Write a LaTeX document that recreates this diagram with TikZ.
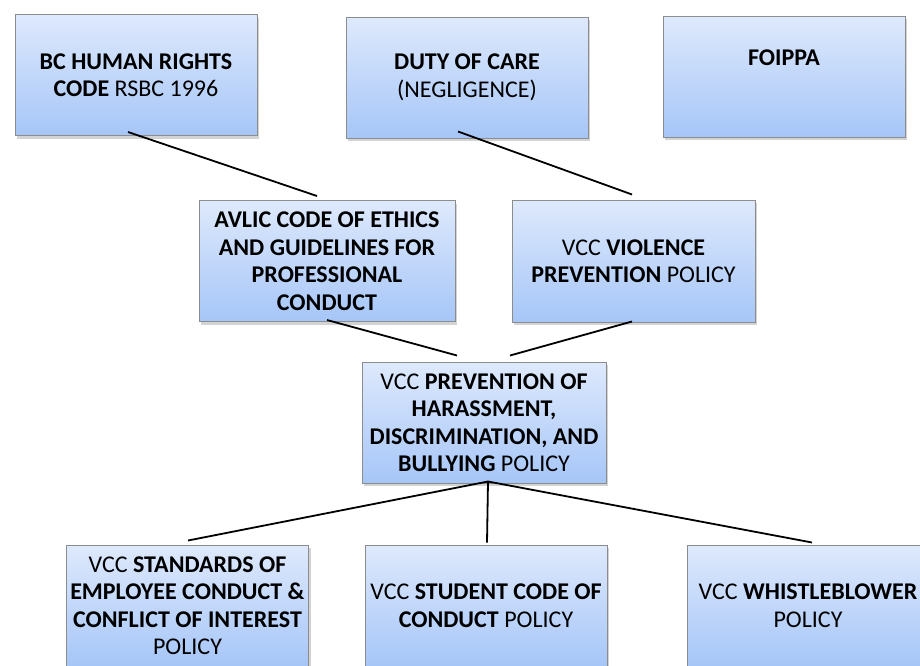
\documentclass[tikz,border=0pt]{standalone}
\usepackage{fontspec}
\setmainfont{Carlito}
\usetikzlibrary{shadows}
\definecolor{boxtop}{RGB}{222,233,252}
\definecolor{boxbot}{RGB}{166,198,248}
\definecolor{boxline}{RGB}{140,140,140}

\begin{document}
\begin{tikzpicture}[x=1pt, y=-1pt,
    every node/.style={font=\fontsize{24}{27.5}\selectfont},
    policybox/.style={draw=boxline, line width=1pt, top color=boxtop, bottom color=boxbot,
      inner sep=0pt, minimum width=242pt, minimum height=121pt, align=center,
      drop shadow={shadow xshift=2pt, shadow yshift=-3pt, opacity=0.35}},
    link/.style={line width=1.8pt}]
  \useasboundingbox (0,0) rectangle (920,665);
  % laws on top row
  \node[policybox] (bc) at (136,75) {\textbf{BC HUMAN RIGHTS}\\\textbf{CODE} RSBC 1996};
  \node[policybox] (duty) at (467,77.5) {\textbf{DUTY OF CARE}\\(NEGLIGENCE)};
  \node[policybox] (foippa) at (784,76.5) {\textbf{FOIPPA}\\[11pt]\mbox{}};
  % codes and policies in the middle
  \node[policybox, minimum width=256pt] (avlic) at (327,261)
    {\textbf{AVLIC CODE OF ETHICS}\\\textbf{AND GUIDELINES FOR}\\\textbf{PROFESSIONAL}\\\textbf{CONDUCT}};
  \node[policybox, minimum width=243pt, minimum height=122pt] (violence) at (633.5,261)
    {VCC \textbf{VIOLENCE}\\\textbf{PREVENTION} POLICY};
  \node[policybox, minimum width=244pt] (prevent) at (484,422.5)
    {VCC \textbf{PREVENTION OF}\\\textbf{HARASSMENT,}\\\textbf{DISCRIMINATION, AND}\\\textbf{BULLYING} POLICY};
  % bottom row
  \node[policybox] (standards) at (187.5,605.5)
    {VCC \textbf{STANDARDS OF}\\\textbf{EMPLOYEE CONDUCT \&}\\\textbf{CONFLICT OF INTEREST}\\POLICY};
  \node[policybox] (student) at (486,605.5) {VCC \textbf{STUDENT CODE OF}\\\textbf{CONDUCT} POLICY};
  \node[policybox] (whistle) at (808,605.5) {VCC \textbf{WHISTLEBLOWER}\\POLICY};
  % connectors
  \draw[link] ([shift={(-8,-4)}]bc.south) -- ([shift={(-10,-4)}]avlic.north);
  \draw[link] ([shift={(-9,-7)}]duty.south) -- ([shift={(-1.5,-5)}]violence.north);
  \draw[link] ([shift={(0,-2)}]avlic.south) -- ([shift={(-27,-6)}]prevent.north);
  \draw[link] ([shift={(-1.5,-1)}]violence.south) -- ([shift={(26,-6)}]prevent.north);
  \draw[link] ([shift={(4,-2)}]prevent.south) -- ([shift={(0.5,-4)}]standards.north);
  \draw[link] ([shift={(4,-2)}]prevent.south) -- ([shift={(1,-2)}]student.north);
  \draw[link] ([shift={(4,-2)}]prevent.south) -- ([shift={(4,-2)}]whistle.north);
\end{tikzpicture}
\end{document}
